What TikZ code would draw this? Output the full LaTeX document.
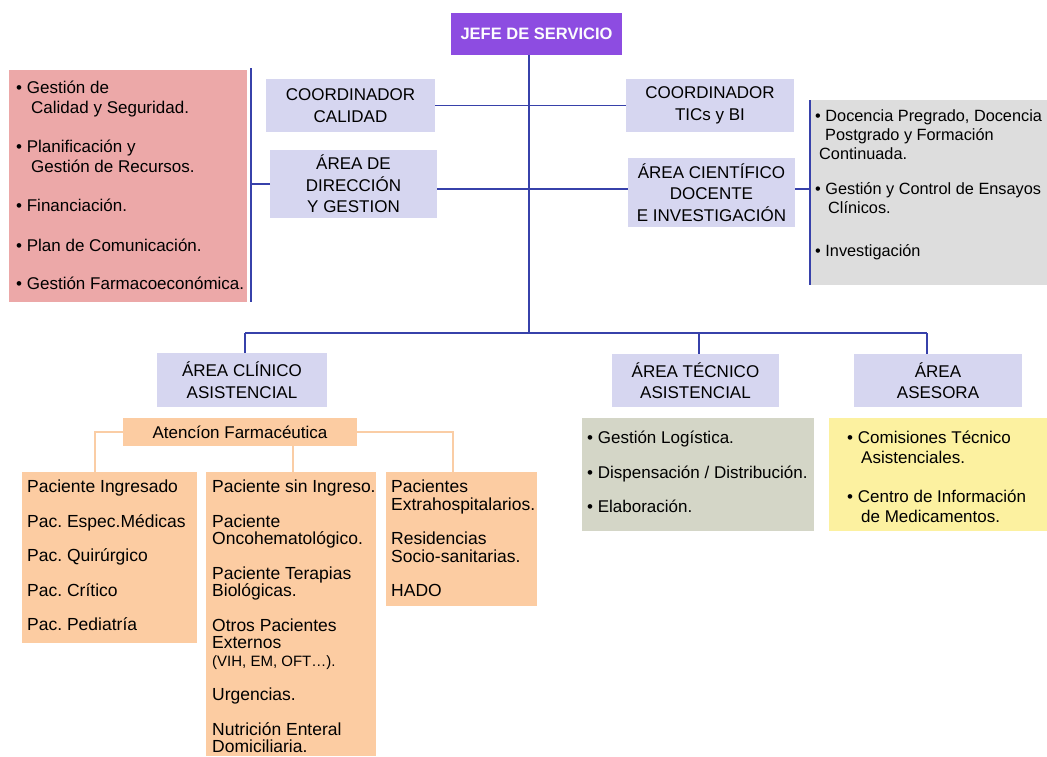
\documentclass[tikz,border=0pt]{standalone}
\usepackage{fontspec}
\setmainfont{Liberation Sans}
\usetikzlibrary{positioning}
\frenchspacing

\definecolor{morado}{RGB}{141,76,225}
\definecolor{lila}{RGB}{214,214,240}
\definecolor{rosa}{RGB}{236,168,168}
\definecolor{gris}{RGB}{221,221,221}
\definecolor{naranja}{RGB}{252,204,162}
\definecolor{verdoso}{RGB}{212,214,199}
\definecolor{amarillo}{RGB}{252,241,160}
\definecolor{azul}{RGB}{55,65,170}
\definecolor{lineanar}{RGB}{250,205,165}

\newcommand{\sang}[1][14pt]{\hspace*{#1}}

\tikzset{
  area/.style={fill=lila, inner sep=0pt, outer sep=0pt, align=center, anchor=north west,
    font=\fontsize{17}{21.5}\selectfont},
  caja/.style={inner sep=0pt, outer sep=0pt, anchor=north west},
  texto/.style={inner sep=0pt, anchor=north west, align=left,
    font=\fontsize{17}{20}\selectfont, execute at begin node={\rule{0pt}{16pt}}},
  paci/.style={texto, font=\fontsize{17.5}{17.5}\selectfont},
  link/.style={draw=azul, line width=1.2pt},
  rama/.style={draw=lineanar, line width=1.5pt},
}

\begin{document}
\begin{tikzpicture}[x=1pt,y=-1pt]
\useasboundingbox (0,0) rectangle (1047,756);

% jefe y coordinadores
\node[caja, fill=morado, minimum width=171pt, minimum height=42pt, text=white!92!lila,
  font=\bfseries\fontsize{16.5}{20}\selectfont] (jefe) at (451,13) {JEFE DE SERVICIO};
\node[area, minimum width=169pt, minimum height=53pt] (calidad) at (266,79) {COORDINADOR\\CALIDAD};
\node[area, minimum width=168pt, minimum height=53pt] (tics) at (626,79) {COORDINADOR\\TICs y BI};
\node[area, minimum width=167pt, minimum height=68pt] (direccion) at (270,150) {ÁREA DE\\DIRECCIÓN\\Y GESTION};
\node[area, minimum width=167pt, minimum height=69pt] (cientifico) at (628,158) {ÁREA CIENTÍFICO\\DOCENTE\\E INVESTIGACIÓN};

% cajas laterales
\node[caja, fill=rosa, minimum width=238pt, minimum height=232pt] (gestion) at (9,70) {};
\node[texto] (gestiontxt) at (16,81) {• Gestión de\\
  \sang[15pt]Calidad y Seguridad.\\[19pt]
  • Planificación y\\
  \sang[15pt]Gestión de Recursos.\\[19pt]
  • Financiación.\\[20pt]
  • Plan de Comunicación.\\[18pt]
  • Gestión Farmacoeconómica.};
\node[caja, fill=gris, minimum width=237pt, minimum height=185pt] (docencia) at (810,100) {};
\node[texto, font=\fontsize{16.3}{19}\selectfont] (docenciatxt) at (815,109) {• Docencia Pregrado, Docencia\\
  \sang[10pt]Postgrado y Formación\\
  \sang[4pt]Continuada.\\[16pt]
  • Gestión y Control de Ensayos\\
  \sang[13pt]Clínicos.\\[24pt]
  • Investigación};

\coordinate (tronco) at (529,333);
\coordinate (cruce) at (529,189);
\coordinate (izqA) at (251,68);
\coordinate (izqB) at (251,302);
\coordinate (derA) at (810,100);
\coordinate (derB) at (810,285);
\draw[link] (jefe.south -| tronco) -- (tronco);
\draw[link] (calidad.east) -- (tics.west);
\draw[link] (direccion.east |- cruce) -- (cientifico.west |- cruce);
\draw[link] (izqA) -- (izqB);
\draw[link] (direccion.west) -- (direccion.west -| izqA);
\draw[link] (derA) -- (derB);
\draw[link] (cientifico.east |- cruce) -- (derA |- cruce);

% areas de abajo
\node[area, minimum width=170pt, minimum height=54pt] (clinico) at (157,353) {ÁREA CLÍNICO\\ASISTENCIAL};
\node[area, minimum width=167pt, minimum height=53pt] (tecnico) at (612,354) {ÁREA TÉCNICO\\ASISTENCIAL};
\node[area, minimum width=168pt, minimum height=53pt] (asesora) at (854,354) {ÁREA\\ASESORA};

\coordinate (barA) at (245,333);
\coordinate (barB) at (699,333);
\coordinate (barC) at (927,333);
\draw[link] (barA) -- (barC);
\draw[link] (barA) -- (barA |- clinico.north);
\draw[link] (barB) -- (barB |- tecnico.north);
\draw[link] (barC) -- (barC |- asesora.north);

% atencion farmaceutica
\node[caja, fill=naranja, minimum width=234pt, minimum height=28pt,
  font=\fontsize{17}{20}\selectfont] (atencion) at (123,418) {Atencíon Farmacéutica};
\node[caja, fill=naranja, minimum width=175pt, minimum height=171pt] (ingreso) at (22,472) {};
\node[caja, fill=naranja, minimum width=170pt, minimum height=284pt] (externo) at (206,472) {};
\node[caja, fill=naranja, minimum width=151pt, minimum height=134pt] (extra) at (386,472) {};

\coordinate (ramA) at (95,434);
\coordinate (ramB) at (293,446);
\coordinate (ramC) at (453,434);
\draw[rama] (ingreso.north -| ramA) |- (atencion.west);
\draw[rama] (atencion.east) -| (extra.north -| ramC);
\draw[rama] (atencion.south -| ramB) -- (externo.north -| ramB);

\node[paci] (ingresotxt) at (27,480) {Paciente Ingresado\\[17pt]
  Pac. Espec.Médicas\\[17pt]
  Pac. Quirúrgico\\[17pt]
  Pac. Crítico\\[17pt]
  Pac. Pediatría};
\node[paci] (externotxt) at (212,480) {Paciente sin Ingreso.\\[17pt]
  Paciente\\Oncohematológico.\\[17pt]
  Paciente Terapias\\Biológicas.\\[17pt]
  Otros Pacientes\\Externos\\{\fontsize{15}{17.5}\selectfont(VIH, EM, OFT…).}\\[17pt]
  Urgencias.\\[17pt]
  Nutrición Enteral\\Domiciliaria.};
\node[paci] (extratxt) at (391,480) {Pacientes\\Extrahospitalarios.\\[17pt]
  Residencias\\Socio-sanitarias.\\[17pt]
  HADO};

% tecnico y asesora
\node[caja, fill=verdoso, minimum width=232pt, minimum height=113pt] (logistica) at (582,418) {};
\node[texto] (logisticatxt) at (587,431) {• Gestión Logística.\\[14.5pt]
  • Dispensación / Distribución.\\[14.5pt]
  • Elaboración.};
\node[caja, fill=amarillo, minimum width=218pt, minimum height=113pt] (comisiones) at (829,418) {};
\node[texto] (comisionestxt) at (847,431) {• Comisiones Técnico\\
  \sang Asistenciales.\\[19pt]
  • Centro de Información\\
  \sang de Medicamentos.};
\end{tikzpicture}
\end{document}
